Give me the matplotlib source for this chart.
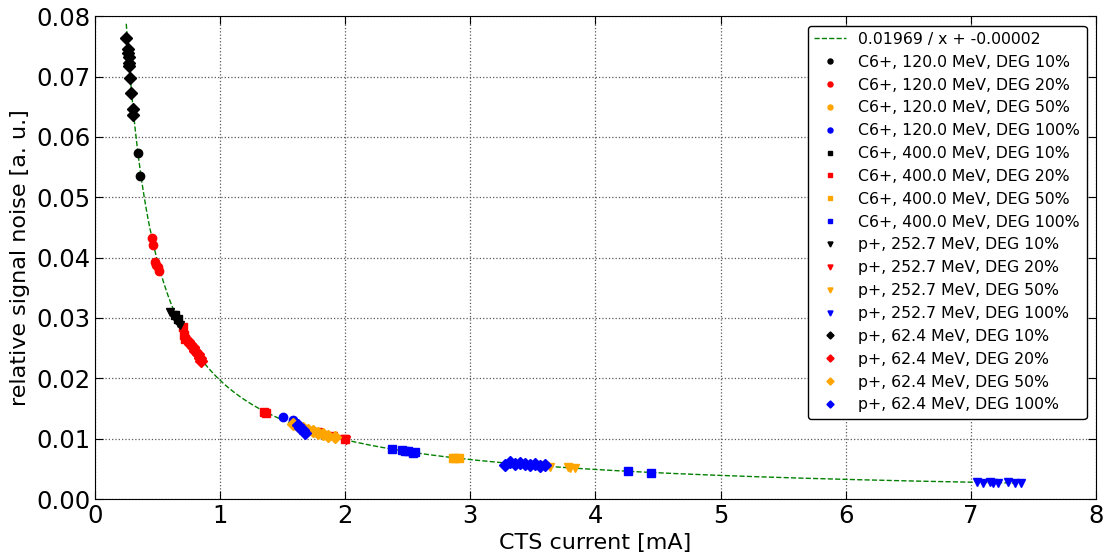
import matplotlib.pyplot as plt
import numpy as np

# fit parameters (from legend)
fit_a = 0.01969
fit_b = -0.00002

colors = ['black', 'red', 'orange', 'blue']
degs = ['10%', '20%', '50%', '100%']

# C6+, 120.0 MeV (circles)
c120_x = [[0.344, 0.36], [0.456, 0.465, 0.48, 0.49, 0.50, 0.51], [1.62, 1.66], [1.50, 1.58, 1.60]]
c120_y = [[0.0573, 0.0535], [0.0433, 0.0421, 0.0392, 0.0388, 0.0384, 0.0378], [0.0121, 0.0117], [0.0136, 0.0131, 0.0125]]

# C6+, 400.0 MeV (squares)
c400_x = [[0.64, 0.66], [0.70, 0.71, 0.72, 1.35, 1.37, 1.78, 2.00], [2.86, 2.88, 2.91], [2.37, 2.45, 2.48, 2.50, 2.54, 2.56, 4.26, 4.44]]
c400_y = [[0.0305, 0.0298], [0.0285, 0.0272, 0.0265, 0.0144, 0.0142, 0.0111, 0.0099], [0.0068, 0.0068, 0.0068], [0.0083, 0.0081, 0.0079, 0.0080, 0.0077, 0.0078, 0.0047, 0.0044]]

# p+, 252.7 MeV (triangles)
p252_x = [[0.60, 0.62, 0.64, 0.65, 0.66, 0.68], [1.90, 1.99, 2.01], [3.56, 3.60, 3.64, 3.78, 3.80, 3.84], [7.05, 7.10, 7.15, 7.18, 7.22, 7.30, 7.35, 7.40]]
p252_y = [[0.0310, 0.0305, 0.0300, 0.0296, 0.0292, 0.0288], [0.0104, 0.0100, 0.0098], [0.0056, 0.0055, 0.0053, 0.0053, 0.0052, 0.0052], [0.0028, 0.0027, 0.0028, 0.0027, 0.0027, 0.0028, 0.0027, 0.0026]]

# p+, 62.4 MeV (diamonds)
p62_x = [[0.248, 0.264, 0.266, 0.268, 0.27, 0.272, 0.28, 0.284, 0.30, 0.304], [0.74, 0.76, 0.78, 0.80, 0.82, 0.84, 0.85], [1.58, 1.62, 1.66, 1.70, 1.74, 1.78, 1.82, 1.86, 1.92], [1.62, 1.64, 1.66, 1.68, 3.28, 3.32, 3.36, 3.40, 3.44, 3.48, 3.52, 3.56, 3.60]]
p62_y = [[0.0764, 0.0745, 0.0739, 0.0732, 0.0722, 0.0718, 0.0697, 0.0672, 0.0647, 0.0636], [0.0262, 0.0257, 0.0252, 0.0246, 0.0240, 0.0233, 0.0229], [0.0124, 0.0121, 0.0118, 0.0115, 0.0112, 0.0110, 0.0107, 0.0105, 0.0103], [0.0122, 0.0118, 0.0114, 0.0110, 0.0057, 0.0062, 0.0058, 0.0060, 0.0058, 0.0057, 0.0058, 0.0055, 0.0057]]

fig = plt.figure(figsize=(11.11, 5.57), dpi=100)
ax = fig.add_axes([0.0855, 0.104, 0.901, 0.867])

xf = np.linspace(0.25, 7.4, 500)
ax.plot(xf, fit_a / xf + fit_b, '--', color='green', lw=1,
        label='%.5f / x + %.5f' % (fit_a, fit_b))

groups = [('C6+, 120.0 MeV', 'o', c120_x, c120_y),
          ('C6+, 400.0 MeV', 's', c400_x, c400_y),
          ('p+, 252.7 MeV', 'v', p252_x, p252_y),
          ('p+, 62.4 MeV', 'D', p62_x, p62_y)]
for name, m, xs, ys in groups:
    for i in range(4):
        ax.plot(xs[i], ys[i], m, color=colors[i], mec=colors[i], ms=6,
                label='%s, DEG %s' % (name, degs[i]))

ax.set_xlim(0, 8)
ax.set_ylim(0, 0.08)
ax.set_yticks(np.arange(0, 0.081, 0.01))
ax.grid(True, linestyle=':', color='0.35', lw=0.9)
ax.tick_params(direction='in', top=True, right=True, labelsize=17.5, length=6)
ax.set_xlabel('CTS current [mA]', fontsize=16)
ax.set_ylabel('relative signal noise [a. u.]', fontsize=16)
ax.yaxis.set_major_formatter(plt.FormatStrFormatter('%.2f'))
ax.legend(loc='upper right', numpoints=1, fontsize=11.3, markerscale=0.6,
          fancybox=True, framealpha=1, edgecolor='black', handlelength=2.0,
          borderaxespad=0.6)

fig.savefig('out.png', dpi=100)
